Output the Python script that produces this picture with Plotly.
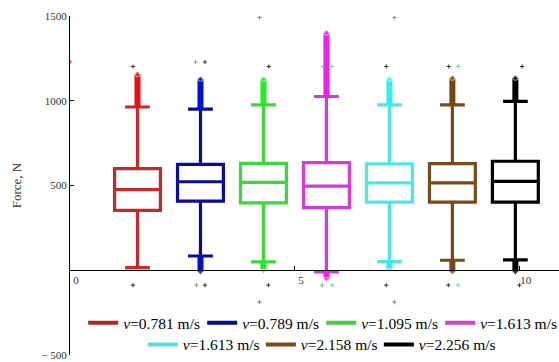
import plotly.graph_objects as go

# ---- data ----
labels = ["0.781", "0.789", "1.095", "1.613", "1.613", "2.158", "2.256"]
positions = [1.5, 2.9, 4.3, 5.7, 7.1, 8.5, 9.9]
q1 = [353, 408, 398, 369, 402, 402, 402]
median = [476, 522, 518, 496, 516, 516, 524]
q3 = [600, 625, 631, 635, 628, 629, 643]
upper_whisker = [963, 951, 976, 1025, 976, 976, 996]
lower_whisker = [16, 84, 49, -10, 51, 59, 61]
outlier_max = [1157, 1129, 1129, 1402, 1129, 1135, 1135]
outlier_min = [None, -12, -4, -53, 0, -12, -12]

box_colors = ["#c42a2a", "#0a0a9c", "#3ad83a", "#d63ad6", "#4ee6e6", "#7a4a18", "#000000"]
band_colors = ["#e81010", "#0010d0", "#20f020", "#f020f0", "#30f0f0", "#7a4610", "#000000"]
legend_colors = ["#b42424", "#0a0a8c", "#44cc44", "#cc44cc", "#5cdede", "#7a4a18", "#000000"]

# small marks scattered above / below the boxes
mark_dark_x = [1.4, 3.0, 4.42, 7.03, 8.42, 10.05, 1.4, 3.0, 4.41, 7.03, 8.41, 9.99]
mark_dark_y = [1202, 1228, 1202, 1202, 1202, 1202, -88, -88, -88, -88, -88, -88]
mark_grey_x = [2.79, 5.63, 2.81, 5.61]
mark_grey_y = [1228, 1202, -88, -88]
mark_cyan_x = [5.82, 8.63, 5.83, 8.63]
mark_cyan_y = [1202, 1202, -88, -88]
mark_mauve_x = [4.21, 7.21, 4.21, 7.21]
mark_mauve_y = [1492, 1492, -188, -188]
mark_red_x = [0.0]
mark_red_y = [1230]

x_ticks = [0, 5, 10]
y_ticks = [-500, 500, 1000, 1500]
y_ticktext = ["\u2212 500", "500", "1000", "1500"]

fig = go.Figure()

for i in range(len(positions)):
    # outlier bands (dense outliers drawn as thick strokes)
    fig.add_trace(go.Scatter(
        x=[positions[i], positions[i]], y=[upper_whisker[i], outlier_max[i]],
        mode="lines+markers", line=dict(color=band_colors[i], width=6),
        marker=dict(size=[0, 5], color=band_colors[i]),
        showlegend=False, hoverinfo="skip"))
    if outlier_min[i] is not None:
        fig.add_trace(go.Scatter(
            x=[positions[i], positions[i]], y=[lower_whisker[i], outlier_min[i]],
            mode="lines+markers", line=dict(color=band_colors[i], width=6),
            marker=dict(size=[0, 6], symbol="triangle-down", color=band_colors[i]),
            showlegend=False, hoverinfo="skip"))
    fig.add_trace(go.Box(
        x=[positions[i]], q1=[q1[i]], median=[median[i]], q3=[q3[i]],
        lowerfence=[lower_whisker[i]], upperfence=[upper_whisker[i]],
        width=1.02, whiskerwidth=0.54,
        line=dict(color=box_colors[i], width=3.2),
        fillcolor="rgba(255,255,255,0)", boxpoints=False,
        showlegend=False, hoverinfo="skip"))

for xs, ys, c in [(mark_dark_x, mark_dark_y, "#333333"), (mark_grey_x, mark_grey_y, "#8aa58a"),
                  (mark_cyan_x, mark_cyan_y, "#7cc8c8"), (mark_mauve_x, mark_mauve_y, "#a070a0"),
                  (mark_red_x, mark_red_y, "#e04040")]:
    fig.add_trace(go.Scatter(x=xs, y=ys, mode="markers",
                             marker=dict(symbol="cross-thin", size=3, color=c,
                                         line=dict(width=1, color=c)),
                             showlegend=False, hoverinfo="skip"))

# legend entries
for i, lab in enumerate(labels):
    fig.add_trace(go.Scatter(
        x=[None], y=[None], mode="lines",
        line=dict(color=legend_colors[i], width=4),
        name="<i>v</i>=" + lab + " m/s",
        legend="legend" if i < 4 else "legend2"))

legend_font = dict(family="Liberation Serif", size=15.5, color="#000000")
fig.update_layout(
    width=559, height=362,
    margin=dict(l=70, r=0, t=16, b=7, autoexpand=False),
    paper_bgcolor="white", plot_bgcolor="white",
    font=dict(family="Liberation Serif", size=11, color="#333333"),
    legend=dict(orientation="h", x=0.027, xanchor="left", y=0.094, yanchor="middle",
                font=legend_font, bgcolor="rgba(0,0,0,0)", tracegroupgap=0,
                itemwidth=30, entrywidth=74),
    legend2=dict(orientation="h", x=0.149, xanchor="left", y=0.03, yanchor="middle",
                 font=legend_font, bgcolor="rgba(0,0,0,0)", tracegroupgap=0,
                 itemwidth=30, entrywidth=73),
    xaxis=dict(range=[0, 10.87], anchor="free", position=0.25,
               showline=True, linecolor="#000000", linewidth=1,
               ticks="inside", ticklen=4, tickcolor="#000000",
               tickvals=x_ticks, ticklabelshift=6,
               showgrid=False, zeroline=False),
    yaxis=dict(range=[-500, 1500], showline=True, linecolor="#000000", linewidth=1,
               ticks="inside", ticklen=4, tickcolor="#000000",
               tickvals=y_ticks, ticktext=y_ticktext,
               showgrid=False, zeroline=False,
               title=dict(text="Force, N", font=dict(family="Liberation Serif", size=13,
                                                      color="#333333"), standoff=16)),
)

fig.write_html("out.html", config={"displayModeBar": False},
               post_script="document.body.style.margin='0';document.body.style.padding='0';")
